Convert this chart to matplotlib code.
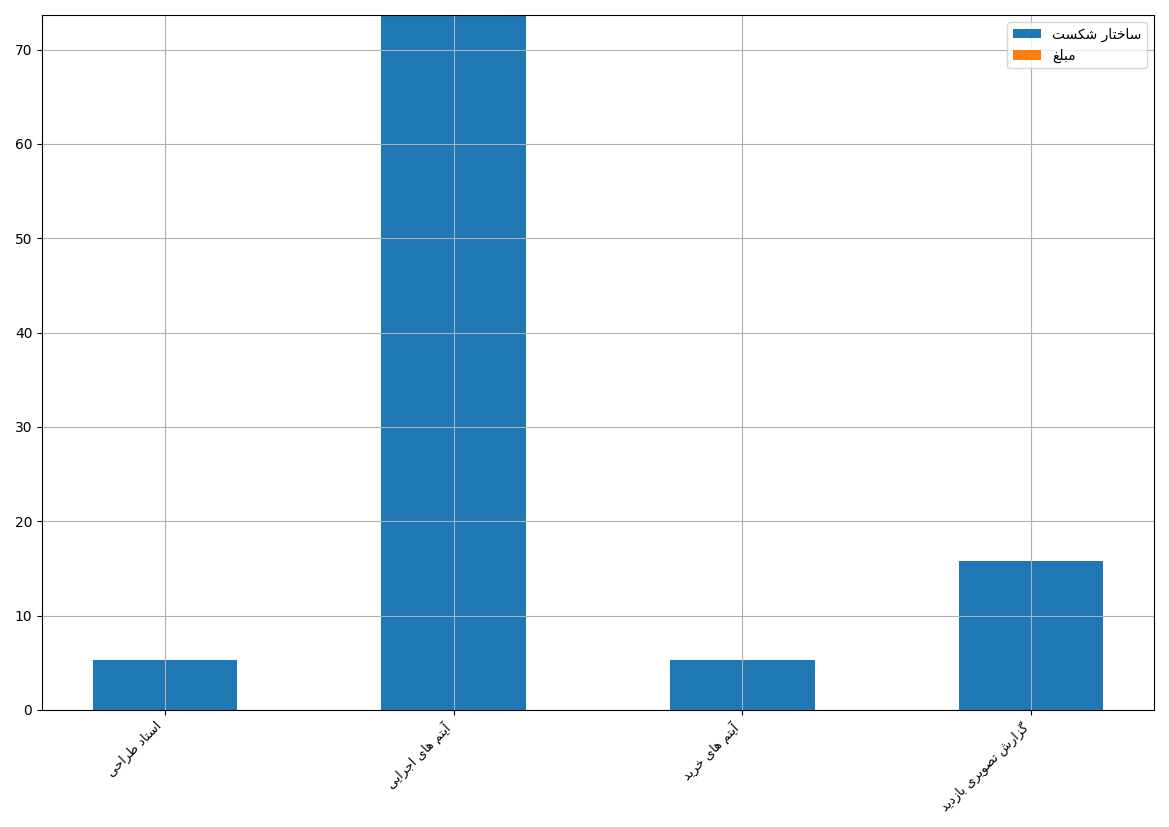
import matplotlib
matplotlib.use('Agg')
from matplotlib import pyplot as plt
import numpy as np

# داده ها
categories = ['استاد طراحی', 'آیتم های اجرایی', 'آیتم های خرید', 'گزارش تصویری بازدید']
structure = [5.26, 73.68, 5.26, 15.79]
amount = [0, 0, 0, 0]
series_names = ['ساختار شکست', 'مبلغ']

# matplotlib حروف فارسی را به هم نمی‌چسباند، پس شکل‌ها را دستی انتخاب می‌کنیم
# (isolated, final, initial, medial)
FORMS = {
    'ا': ('\uFE8D', '\uFE8E'), 'آ': ('\uFE81', '\uFE82'),
    'د': ('\uFEA9', '\uFEAA'), 'ر': ('\uFEAD', '\uFEAE'),
    'ز': ('\uFEAF', '\uFEB0'), 'و': ('\uFEED', '\uFEEE'),
    'ب': ('\uFE8F', '\uFE90', '\uFE91', '\uFE92'),
    'ت': ('\uFE95', '\uFE96', '\uFE97', '\uFE98'),
    'ج': ('\uFE9D', '\uFE9E', '\uFE9F', '\uFEA0'),
    'ح': ('\uFEA1', '\uFEA2', '\uFEA3', '\uFEA4'),
    'خ': ('\uFEA5', '\uFEA6', '\uFEA7', '\uFEA8'),
    'س': ('\uFEB1', '\uFEB2', '\uFEB3', '\uFEB4'),
    'ش': ('\uFEB5', '\uFEB6', '\uFEB7', '\uFEB8'),
    'ص': ('\uFEB9', '\uFEBA', '\uFEBB', '\uFEBC'),
    'ط': ('\uFEC1', '\uFEC2', '\uFEC3', '\uFEC4'),
    'غ': ('\uFECD', '\uFECE', '\uFECF', '\uFED0'),
    'ل': ('\uFEDD', '\uFEDE', '\uFEDF', '\uFEE0'),
    'م': ('\uFEE1', '\uFEE2', '\uFEE3', '\uFEE4'),
    'ن': ('\uFEE5', '\uFEE6', '\uFEE7', '\uFEE8'),
    'ه': ('\uFEE9', '\uFEEA', '\uFEEB', '\uFEEC'),
    'ک': ('\uFB8E', '\uFB8F', '\uFB90', '\uFB91'),
    'گ': ('\uFB92', '\uFB93', '\uFB94', '\uFB95'),
    'ی': ('\uFBFC', '\uFBFD', '\uFBFE', '\uFBFF'),
}


def fa(text):
    out = []
    for i, ch in enumerate(text):
        if ch not in FORMS:
            out.append(ch)
            continue
        prev = text[i - 1] if i > 0 else ''
        nxt = text[i + 1] if i + 1 < len(text) else ''
        join_prev = prev in FORMS and len(FORMS[prev]) == 4
        join_next = len(FORMS[ch]) == 4 and nxt in FORMS
        f = FORMS[ch]
        if join_prev and join_next:
            out.append(f[3])
        elif join_prev:
            out.append(f[1])
        elif join_next:
            out.append(f[2])
        else:
            out.append(f[0])
    return ''.join(out)[::-1]


plt.rcParams['font.family'] = ['DejaVu Sans']

fig = plt.figure(figsize=(11.69, 8.27), dpi=100)
ax = fig.add_axes([0.036, 0.1415, 0.951, 0.8405])

x = np.arange(len(categories))
ax.bar(x, structure, width=0.5, color='#1f77b4', label=fa(series_names[0]))
ax.bar(x, amount, width=0.5, color='#ff7f0e', label=fa(series_names[1]))

ax.set_ylim(0, max(structure))
ax.set_xticks(x)
ax.set_xticklabels([fa(c) for c in categories], rotation=45, ha='right', fontsize=9.2)
ax.grid(True)
ax.legend(loc='upper right')

plt.savefig('out.png', dpi=100)
